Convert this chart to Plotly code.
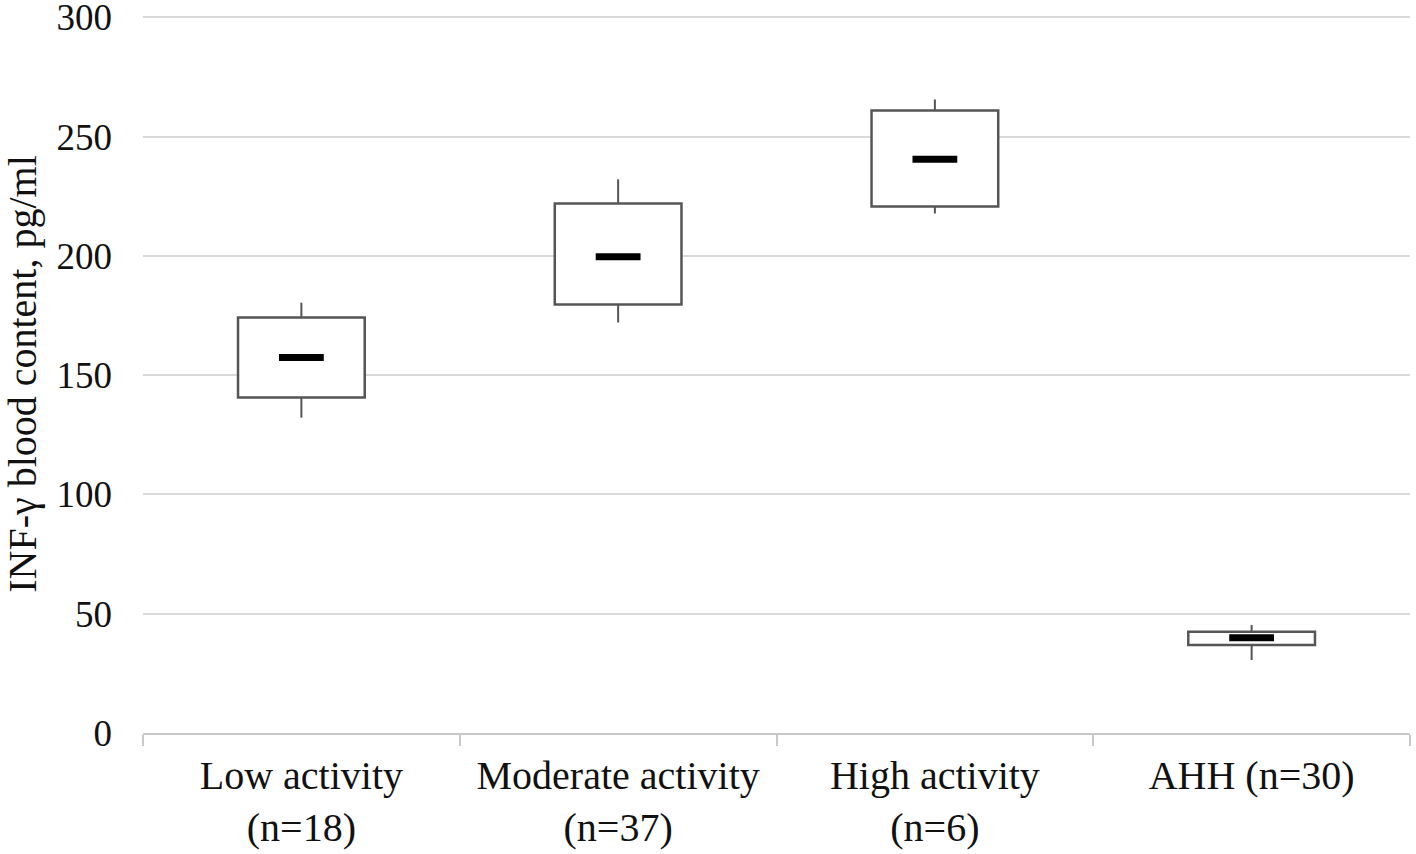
import plotly.graph_objects as go

categories = ["Low activity<br>(n=18)", "Moderate activity<br>(n=37)",
              "High activity<br>(n=6)", "AHH (n=30)"]
q1 = [140.6, 179.6, 220.7, 36.9]
median = [157.4, 199.7, 240.5, 39.9]
q3 = [174.2, 222.0, 261.0, 42.4]
lower = [132.2, 172.1, 217.8, 30.6]
upper = [180.4, 232.1, 265.6, 45.3]

y_ticks = [0, 50, 100, 150, 200, 250, 300]

FONT = "Liberation Serif, Times New Roman, serif"
BOX_COLOR = "#555555"
TEXT = "#111111"

fig = go.Figure()

# whiskers (built from the data arrays)
wx, wy = [], []
for c, a, b, lo, hi in zip(categories, q1, q3, lower, upper):
    wx += [c, c, None, c, c, None]
    wy += [b, hi, None, lo, a, None]
fig.add_trace(go.Scatter(x=wx, y=wy, mode="lines",
                         line=dict(color=BOX_COLOR, width=2),
                         showlegend=False, hoverinfo="skip"))

# boxes
fig.add_trace(go.Bar(x=categories, y=[b - a for a, b in zip(q1, q3)], base=q1,
                     width=0.4, marker=dict(color="white",
                                            line=dict(color=BOX_COLOR, width=2.5)),
                     showlegend=False))

# medians
fig.add_trace(go.Scatter(x=categories, y=median, mode="markers",
                         marker=dict(symbol="line-ew", size=32,
                                     line=dict(color="black", width=7)),
                         showlegend=False))

fig.update_layout(
    width=1416, height=854,
    margin=dict(l=143, r=6, t=15, b=121),
    plot_bgcolor="white", paper_bgcolor="white",
    font=dict(family=FONT, color=TEXT, size=37),
    bargap=0.6,
)
fig.update_xaxes(
    type="category", showgrid=False, showline=True, linecolor="#c8c8c8", linewidth=2,
    ticks="outside", tickson="boundaries", ticklen=11, tickcolor="#c8c8c8", tickwidth=2,
    tickfont=dict(size=40, family=FONT, color=TEXT),
    ticklabelstandoff=6, automargin=False,
)
fig.update_yaxes(
    range=[0, 301], tickvals=y_ticks, showgrid=True, gridcolor="#d9d9d9", gridwidth=2,
    zeroline=False, showline=False, ticks="",
    tickfont=dict(size=37, family=FONT, color=TEXT),
    ticklabelstandoff=30, automargin=False, ticklabeloverflow="allow",
    title=dict(text="INF-γ blood content, pg/ml", font=dict(size=40, family=FONT, color=TEXT),
               standoff=25),
)

fig.write_html("out.html", config={"displayModeBar": False},
               post_script="document.body.style.margin='0';document.body.style.overflow='hidden';")
